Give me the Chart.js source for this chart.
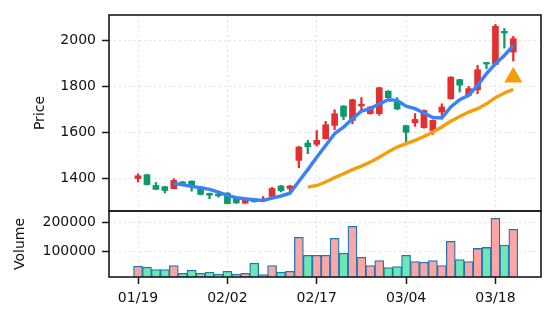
<!DOCTYPE html>
<html>
<head>
<meta charset="utf-8">
<script src="https://cdn.jsdelivr.net/npm/chart.js@4.4.0/dist/chart.umd.min.js"></script>
<style>
  html, body { margin: 0; padding: 0; background: #fff; }
  #wrap { position: relative; width: 556px; height: 322px; }
  #wrap canvas { position: absolute; left: 0; top: 0; }
</style>
</head>
<body>
<div id="wrap">
  <canvas id="price" width="556" height="322"></canvas>
  <canvas id="volume" width="556" height="322"></canvas>
</div>
<script>
// trading days (one per candle)
const dates = ["01/19","01/20","01/21","01/22","01/25","01/26","01/27","01/28","01/29","02/01",
  "02/02","02/03","02/04","02/05","02/08","02/09","02/10","02/11","02/12","02/16",
  "02/17","02/18","02/19","02/23","02/24","02/25","02/26","03/01","03/02","03/03",
  "03/04","03/05","03/08","03/09","03/10","03/11","03/12","03/15","03/16","03/17",
  "03/18","03/19","03/22"];

const open = [1398,1415,1368,1363,1354,1382,1387,1361,1334,1331,1335,1315,1291,1310,1302,1320,1366,1355,1477,1552,
  1547,1571,1629,1713,1651,1714,1680,1680,1778,1730,1628,1641,1619,1607,1687,1745,1828,1760,1784,1902,
  1894,2038,1948];
const high = [1419,1416,1381,1364,1397,1385,1388,1362,1335,1333,1337,1316,1312,1311,1320,1360,1368,1368,1538,1564,
  1607,1647,1697,1715,1743,1750,1712,1795,1780,1750,1630,1680,1697,1653,1723,1841,1830,1799,1890,1903,
  2068,2050,2016];
const low = [1383,1370,1350,1335,1353,1370,1343,1327,1310,1317,1288,1290,1290,1296,1300,1318,1340,1339,1445,1506,
  1539,1570,1610,1654,1636,1694,1678,1673,1748,1698,1557,1625,1617,1590,1665,1743,1774,1758,1767,1876,
  1892,1965,1909];
const close = [1410,1372,1351,1346,1390,1377,1366,1329,1326,1323,1289,1292,1310,1297,1308,1355,1345,1366,1535,1536,
  1564,1632,1680,1668,1741,1720,1709,1793,1750,1700,1599,1655,1694,1651,1709,1839,1804,1789,1871,1896,
  2060,2031,2006];
const volume = [47000,43500,35000,35000,49500,22000,33000,22000,26000,19000,29000,19000,22000,57500,17500,49500,26000,29000,148500,85000,
  85000,85000,145000,92000,187000,78000,49500,67000,42500,46000,85000,63500,61000,67000,49500,134500,70500,63500,109500,113000,
  215500,121000,176500];

// moving averages
const maFastStart = 4;
const maFast = [1376,1371,1364,1358,1351,1339,1325,1315,1310,1306,1303,1313,1322,1334,1386,1437,1491,1542,1593,1622,
  1658,1691,1702,1723,1741,1738,1713,1702,1683,1663,1661,1709,1741,1760,1803,1854,1897,1933,1977];
const maSlowStart = 19;
const maSlow = [1361,1368,1383,1402,1419,1437,1452,1470,1491,1514,1535,1550,1564,1581,1600,1622,1647,1668,1687,1702,
  1723,1750,1770,1786];

// signal marker
const signalIndex = [42];
const signalPrice = [1838];

const priceTicks = [1400, 1600, 1800, 2000];
const volumeTicks = [100000, 200000];
const dateTicks = [0, 10, 20, 30, 40];

const UP = "#e3302f", DOWN = "#0c9a6c";
const VOL_UP = "#fca5a5", VOL_DOWN = "#6ee7b7";
const isUp = close.map((c, i) => c >= open[i]);
const candleColors = isUp.map(u => u ? UP : DOWN);
const volColors = isUp.map(u => u ? VOL_UP : VOL_DOWN);

const FONT = { family: "DejaVu Sans", size: 14 };
Chart.defaults.font.family = "DejaVu Sans";
Chart.defaults.color = "#111";

// black box round the plot area
const frame = {
  id: "frame",
  afterDraw(chart) {
    const a = chart.chartArea, ctx = chart.ctx;
    ctx.save();
    ctx.strokeStyle = "#1a1a1a";
    ctx.lineWidth = 1.6;
    ctx.strokeRect(a.left, a.top, a.right - a.left, a.bottom - a.top);
    ctx.restore();
  }
};

const gridOpts = { offset: false, color: "#e2e2e2", lineWidth: 1, borderDash: [2, 3], tickColor: "#1a1a1a", tickWidth: 1.5, tickLength: 7, tickBorderDash: [] };

function xScale(showLabels) {
  return {
    type: "linear", min: -3.25, max: 45.1, offset: false,
    afterBuildTicks: s => { s.ticks = dateTicks.map(v => ({ value: v })); },
    afterFit: s => { s.height = showLabels ? 45 : 0; },
    ticks: { display: showLabels, font: FONT, padding: 6, maxRotation: 0, callback: v => dates[v] },
    grid: Object.assign({}, gridOpts, { drawTicks: showLabels }),
    border: { display: false, dash: [2, 3] }
  };
}

new Chart(document.getElementById("price"), {
  type: "bar",
  data: {
    datasets: [
      {
        type: "line", order: 0, label: "MA5",
        data: maFast.map((v, i) => ({ x: i + maFastStart, y: v })),
        borderColor: "#3b82f6", borderWidth: 3.5, pointRadius: 0, tension: 0
      },
      {
        type: "line", order: 0, label: "MA20",
        data: maSlow.map((v, i) => ({ x: i + maSlowStart, y: v })),
        borderColor: "#f59e0b", borderWidth: 3.4, pointRadius: 0, tension: 0
      },
      {
        type: "line", order: 0, label: "signal", showLine: false,
        data: signalIndex.map((x, i) => ({ x: x, y: signalPrice[i] })),
        pointStyle: "triangle", pointRadius: 10.5, backgroundColor: "#f59e0b", borderColor: "#f59e0b", borderWidth: 0
      },
      {
        order: 1, label: "body", grouped: false,
        data: open.map((o, i) => ({ x: i, y: [o, close[i]] })),
        backgroundColor: candleColors, borderColor: candleColors, borderWidth: 0,
        barThickness: 6, minBarLength: 1.5
      },
      {
        order: 2, label: "wick", grouped: false,
        data: low.map((l, i) => ({ x: i, y: [l, high[i]] })),
        backgroundColor: candleColors, borderWidth: 0, barThickness: 1.6
      }
    ]
  },
  options: {
    animation: false, responsive: false,
    layout: { padding: { top: 15, right: 15, left: 0, bottom: 111 } },
    plugins: { legend: { display: false }, tooltip: { enabled: false } },
    scales: {
      x: xScale(false),
      y: {
        min: 1257, max: 2109,
        afterBuildTicks: s => { s.ticks = priceTicks.map(v => ({ value: v })); },
        afterFit: s => { s.width = 109; },
        ticks: { font: FONT, padding: 6, callback: v => String(v) },
        grid: gridOpts,
        border: { display: false, dash: [2, 3] },
        title: { display: true, text: "Price", font: FONT, padding: { top: 32 } }
      }
    }
  },
  plugins: [frame]
});

new Chart(document.getElementById("volume"), {
  type: "bar",
  data: {
    datasets: [{
      label: "Volume", grouped: false,
      data: volume.map((v, i) => ({ x: i, y: v })),
      backgroundColor: volColors, borderColor: "#1f77b4", borderWidth: 1.3,
      barThickness: 9
    }]
  },
  options: {
    animation: false, responsive: false,
    layout: { padding: { top: 211, right: 15, left: 0, bottom: 0 } },
    plugins: { legend: { display: false }, tooltip: { enabled: false } },
    scales: {
      x: xScale(true),
      y: {
        min: 9000, max: 241000,
        afterBuildTicks: s => { s.ticks = volumeTicks.map(v => ({ value: v })); },
        afterFit: s => { s.width = 109; },
        ticks: { font: FONT, padding: 6, callback: v => String(v) },
        grid: gridOpts,
        border: { display: false, dash: [2, 3] },
        title: { display: true, text: "Volume", font: FONT, padding: { top: 12 } }
      }
    }
  },
  plugins: [frame]
});
</script>
</body>
</html>
